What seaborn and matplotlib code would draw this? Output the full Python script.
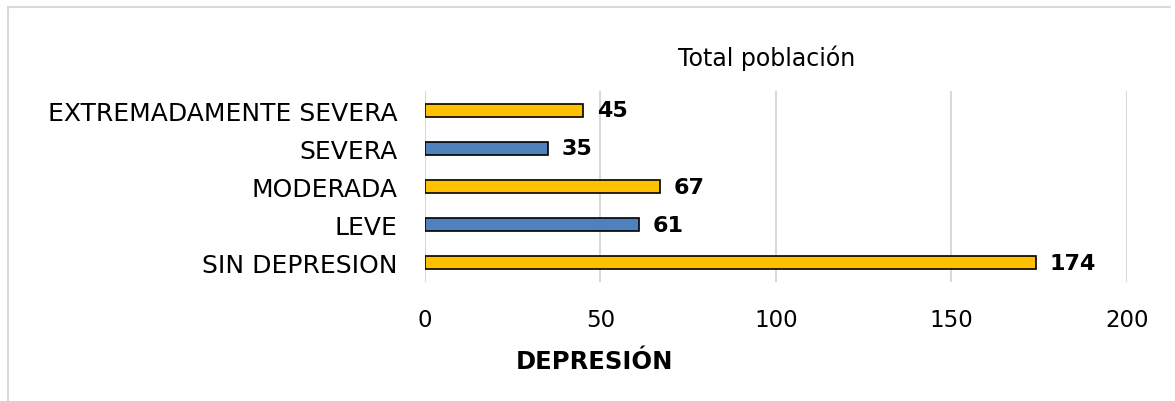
import matplotlib
matplotlib.use("Agg")
import matplotlib.pyplot as plt
import seaborn as sns
import pandas as pd
from matplotlib.lines import Line2D

categories = ["EXTREMADAMENTE SEVERA", "SEVERA", "MODERADA", "LEVE", "SIN DEPRESION"]
values = [45, 35, 67, 61, 174]
bar_colors = ["#FFC000", "#4F81BD", "#FFC000", "#4F81BD", "#FFC000"]
x_ticks = [0, 50, 100, 150, 200]

sns.set_style("white")
plt.rcParams["font.family"] = ["DejaVu Sans"]
plt.rcParams["text.color"] = "black"
plt.rcParams["xtick.color"] = "black"
plt.rcParams["ytick.color"] = "black"

df = pd.DataFrame({"nivel": categories, "total": values})

fig = plt.figure(figsize=(11.75, 4.02), dpi=100)
ax = fig.add_axes([0.3617, 0.296, 0.5974, 0.4751])

sns.barplot(data=df, x="total", y="nivel", hue="nivel", order=categories,
            palette=dict(zip(categories, bar_colors)), orient="h", saturation=1,
            width=0.34, edgecolor="black", linewidth=1.2, legend=False, ax=ax)

ax.set_xlim(0, 200)
ax.set_ylim(4.5, -0.5)
ax.set_xticks(x_ticks)
ax.xaxis.grid(True, color="#D9D9D9", linewidth=1.5)
ax.set_axisbelow(True)
for s in ax.spines.values():
    s.set_visible(False)
ax.tick_params(axis="y", length=0, pad=20, labelsize=18, labelcolor="black")
ax.tick_params(axis="x", length=0, pad=19, labelsize=16.5, labelcolor="black")
ax.set_xlabel("")
ax.set_ylabel("")

for cont in ax.containers:
    ax.bar_label(cont, fmt="%d", padding=10, fontsize=16, fontweight="bold",
                 color="black")

fig.text(767 / 1175, 1 - 58 / 402, "Total población", ha="center", va="center",
         fontsize=17)
fig.text(594 / 1175, 1 - 362 / 402, "DEPRESIÓN", ha="center", va="center",
         fontsize=17.5, fontweight="bold")

# light frame around the chart area
fig.add_artist(Line2D([8 / 1175, 1170 / 1175], [1 - 8 / 402, 1 - 8 / 402],
                      transform=fig.transFigure, color="#D9D9D9", linewidth=1.5))
fig.add_artist(Line2D([8 / 1175, 8 / 1175], [1 - 8 / 402, 0],
                      transform=fig.transFigure, color="#D9D9D9", linewidth=1.5))

fig.savefig("out.png", dpi=100)
